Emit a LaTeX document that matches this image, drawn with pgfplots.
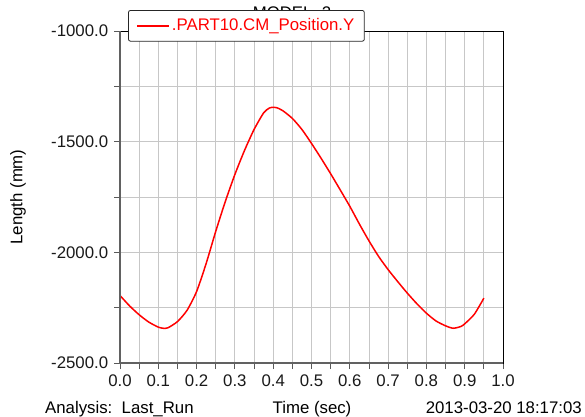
\documentclass[border=0pt]{standalone}
\usepackage{fontspec}
\setmainfont{Liberation Sans}
\usepackage{pgfplots}
\pgfplotsset{compat=1.18}
\begin{document}
\fontsize{16.8bp}{20bp}\selectfont
\begin{tikzpicture}[x=1bp,y=1bp]
\path[use as bounding box] (0,0) rectangle (585,416);
\node[anchor=base] at (292,397) {MODEL\_2};
\node[rotate=90] at (18,219) {Length (mm)};
\node[anchor=base west, inner sep=0] at (45,3) {Analysis:\ \ Last\_Run};
\node[anchor=base, inner sep=0] at (312,3) {Time (sec)};
\node[anchor=base east, inner sep=0] at (582,3) {2013-03-20 18:17:03};
\begin{axis}[at={(120bp,53bp)}, anchor=south west, scale only axis,
  width=383bp, height=332bp,
  xmin=0, xmax=1, ymin=-2500, ymax=-1000,
  xtick={0,0.1,0.2,0.3,0.4,0.5,0.6,0.7,0.8,0.9,1.0},
  minor xtick={0.05,0.15,0.25,0.35,0.45,0.55,0.65,0.75,0.85,0.95},
  ytick={-2500,-2000,-1500,-1000},
  minor ytick={-2250,-1750,-1250},
  grid=both,
  major grid style={black!22, line width=0.9bp},
  minor grid style={black!22, line width=0.9bp},
  tick align=outside, tick pos=left,
  major tick length=6bp, minor tick length=6bp,
  tick style={black!65, line width=0.9bp},
  axis line style={black, line width=0.7bp},
  ticklabel style={font=\fontsize{16.8bp}{20bp}\selectfont, text=black!90},
  /pgf/number format/assume math mode=true,
  xticklabel style={/pgf/number format/.cd, fixed, fixed zerofill, precision=1},
  yticklabel style={/pgf/number format/.cd, fixed, fixed zerofill, precision=1, 1000 sep={}},
  legend style={at={(0.021,1.063)}, anchor=north west, draw=black!85, line width=0.8bp,
    rounded corners=2bp, fill=white, font=\fontsize{16.8bp}{20bp}\selectfont,
    text=red, inner xsep=8bp, inner ysep=6bp},
  legend image code/.code={\draw[red, line width=1.5bp] (0bp,0bp) -- (32bp,0bp);},
  clip=false,
]
\addplot[red, line width=1.5bp, smooth, tension=0.4] coordinates {
(0.000,-2195) (0.025,-2242) (0.050,-2282) (0.075,-2315) (0.100,-2338)
(0.113,-2343) (0.125,-2341) (0.150,-2313) (0.175,-2262) (0.200,-2177)
(0.225,-2050) (0.250,-1905) (0.275,-1770) (0.300,-1648) (0.325,-1540)
(0.350,-1445) (0.375,-1370) (0.390,-1348) (0.400,-1345) (0.410,-1347)
(0.425,-1360) (0.450,-1395) (0.475,-1445) (0.500,-1508) (0.525,-1575)
(0.550,-1645) (0.575,-1718) (0.600,-1792) (0.625,-1872) (0.650,-1948)
(0.675,-2018) (0.700,-2078) (0.725,-2132) (0.750,-2184) (0.775,-2232)
(0.800,-2275) (0.825,-2310) (0.850,-2332) (0.870,-2343) (0.890,-2335)
(0.900,-2323) (0.925,-2280) (0.950,-2207)
};
\addlegendentry{.PART10.CM\_Position.Y}
\draw[black!62, line width=1.6bp] (rel axis cs:0,1) -- (rel axis cs:0,0) -- (rel axis cs:1,0);
\end{axis}
\end{tikzpicture}
\end{document}
